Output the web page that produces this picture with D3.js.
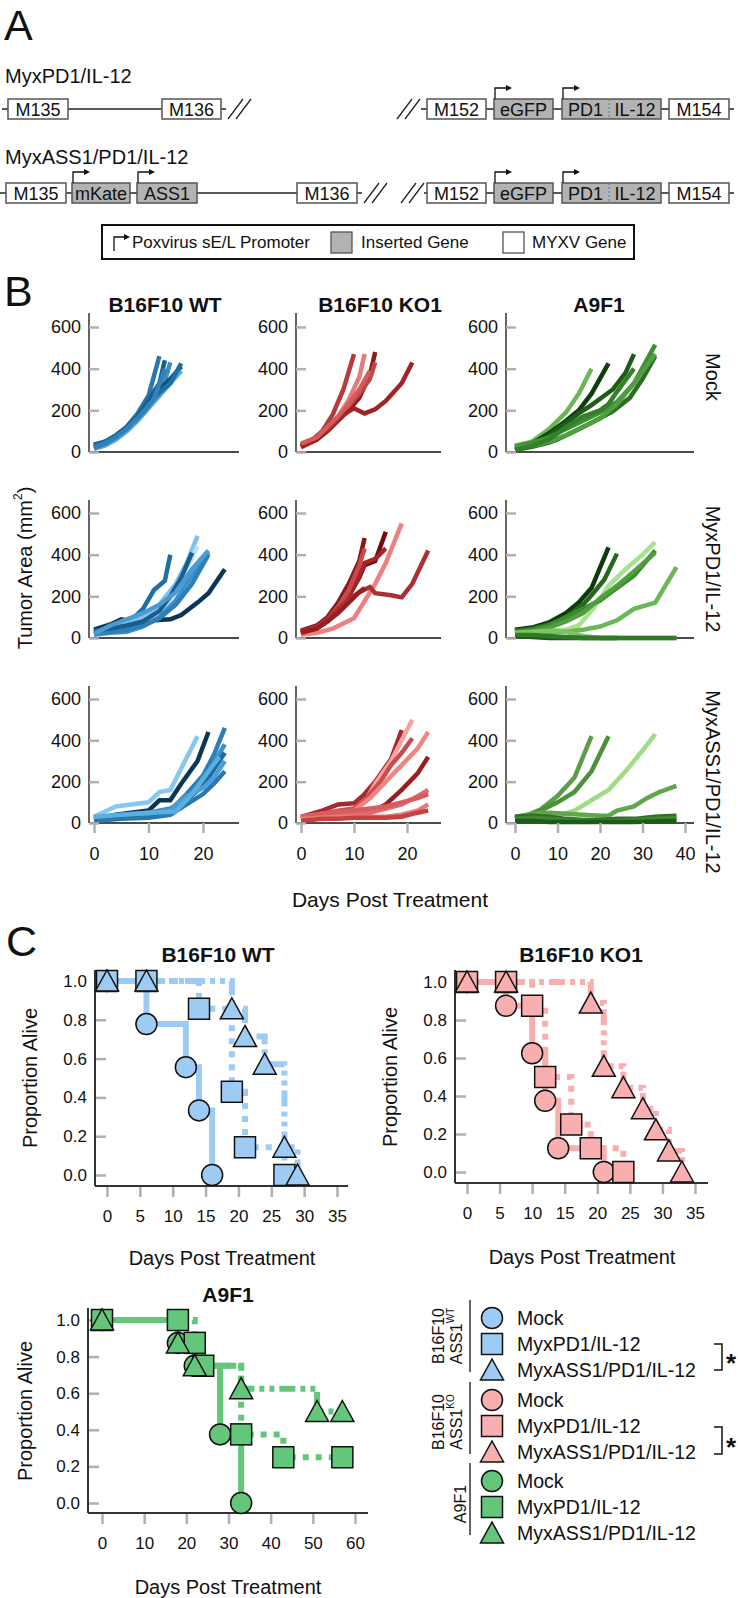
<!DOCTYPE html>
<html><head><meta charset="utf-8">
<script src="https://cdn.jsdelivr.net/npm/d3@7"></script>
<style>
body{margin:0;background:#fff}
svg text{font-family:"Liberation Sans",Arial,Helvetica,sans-serif;fill:#111}
</style>
</head><body>
<svg id="fig" width="738" height="1598"></svg>
<script>
// ================= DATA =================
// Panel A: constructs
const constructLabels = ["MyxPD1/IL-12", "MyxASS1/PD1/IL-12"];
const genes1 = ["M135","M136","M152","eGFP","PD1|IL-12","M154"];
const geneTypes1 = ["myxv","myxv","myxv","insert","insert","myxv"];
const genes2 = ["M135","mKate","ASS1","M136","M152","eGFP","PD1|IL-12","M154"];
const geneTypes2 = ["myxv","insert","insert","myxv","myxv","insert","insert","myxv"];
const promoterGenes1 = ["eGFP","PD1|IL-12"];
const promoterGenes2 = ["mKate","ASS1","eGFP","PD1|IL-12"];
const legendALabels = ["Poxvirus sE/L Promoter","Inserted Gene","MYXV Gene"];

// Panel B: tumor growth curves [day, area mm^2]
const cellLines = ["B16F10 WT","B16F10 KO1","A9F1"];
const treatments = ["Mock","MyxPD1/IL-12","MyxASS1/PD1/IL-12"];
const growthTicksY = [0,200,400,600];
const growthTicksX = [[0,10,20],[0,10,20],[0,10,20,30,40]];

const wtMock = [
 [[0,30],[2,45],[4,75],[6,120],[8,185],[10,270],[12,460]],
 [[0,20],[2,35],[4,65],[6,110],[8,170],[10,250],[12,330],[13,440]],
 [[0,25],[3,55],[5,90],[7,140],[9,200],[11,265],[13,340],[14,430]],
 [[0,35],[2,50],[4,80],[6,120],[8,170],[10,230],[12,300],[14,350],[16,410]],
 [[0,15],[2,30],[4,60],[6,100],[8,150],[10,210],[12,270],[14,330],[16,390]],
 [[0,30],[3,60],[5,95],[8,165],[10,225],[12,285],[14,330],[16,425]],
 [[0,20],[2,40],[4,70],[6,110],[9,190],[11,255],[13,400]]
];
const wtPD1 = [
 [[0,40],[3,65],[5,90],[8,75],[11,85],[14,90],[16,110],[19,170],[21,215],[24,330]],
 [[0,30],[3,50],[6,65],[9,140],[11,230],[13,275],[14,400]],
 [[0,20],[3,40],[6,70],[9,100],[12,160],[15,260],[17,360],[19,490]],
 [[0,20],[3,35],[6,45],[9,70],[12,120],[15,220],[17,330],[19,440]],
 [[0,15],[3,25],[6,30],[9,55],[12,100],[15,180],[18,300],[21,410]],
 [[0,25],[3,30],[6,40],[9,60],[12,95],[15,160],[18,260],[21,400]],
 [[0,35],[3,45],[6,60],[9,80],[12,130],[14,200],[16,290],[18,410]],
 [[0,20],[3,60],[6,90],[9,120],[12,160],[15,220],[18,330],[21,420]]
];
const wtASS1 = [
 [[0,30],[4,80],[10,100],[12,150],[14,160],[19,420]],
 [[0,20],[4,40],[10,60],[12,110],[14,110],[16,190],[19,300],[21,440]],
 [[0,25],[5,35],[10,45],[14,60],[17,140],[20,230],[22,330],[24,460]],
 [[0,20],[5,40],[10,50],[14,70],[17,120],[20,200],[22,290],[24,380]],
 [[0,15],[5,30],[10,40],[14,50],[17,110],[20,180],[22,260],[24,340]],
 [[0,25],[5,35],[10,45],[14,60],[17,130],[20,170],[22,220],[24,300]],
 [[0,10],[5,20],[10,25],[14,40],[17,90],[20,140],[22,190],[24,250]],
 [[0,30],[5,40],[10,50],[15,55],[18,140],[21,250],[23,320]]
];
const koMock = [
 [[0,30],[2,55],[4,100],[6,180],[8,300],[10,470]],
 [[0,20],[3,60],[5,110],[7,170],[9,250],[11,360],[12,470]],
 [[0,25],[3,60],[5,100],[7,150],[9,200],[11,260],[13,370],[14,480]],
 [[0,35],[3,70],[5,110],[7,160],[9,220],[11,280],[13,350],[14,430]],
 [[0,30],[2,50],[4,90],[6,140],[8,180],[10,210],[12,185],[14,205],[16,245],[19,330],[21,430]],
 [[0,40],[3,70],[5,120],[7,170],[9,230],[11,300],[13,390]]
];
const koPD1 = [
 [[0,35],[3,60],[5,100],[7,170],[9,260],[11,370],[12,480]],
 [[0,30],[3,55],[5,90],[7,140],[9,200],[11,290],[12,350],[14,370],[16,510]],
 [[0,25],[3,50],[5,80],[7,130],[9,200],[11,300],[12,360],[14,380],[16,430]],
 [[0,20],[3,50],[5,90],[7,150],[9,230],[11,350],[12,430]],
 [[0,15],[3,25],[6,45],[10,95],[14,260],[16,360],[19,550]],
 [[0,30],[3,55],[5,90],[7,140],[9,185],[11,220],[13,245],[14,215],[17,205],[19,195],[21,260],[24,420]],
 [[0,25],[3,45],[5,80],[7,120],[9,170],[11,220],[12,240]]
];
const koASS1 = [
 [[0,30],[4,60],[7,90],[10,95],[12,140],[14,200],[17,310],[19,450]],
 [[0,20],[4,40],[7,50],[10,60],[12,100],[14,190],[17,300],[19,400],[21,500]],
 [[0,25],[4,45],[7,60],[10,70],[12,110],[15,200],[17,280],[19,340],[21,410]],
 [[0,15],[4,30],[7,45],[10,60],[13,120],[16,200],[19,280],[22,360],[24,440]],
 [[0,20],[4,35],[7,40],[10,40],[13,50],[16,90],[19,160],[22,240],[24,320]],
 [[0,30],[4,45],[7,50],[10,50],[13,50],[16,70],[19,90],[22,130],[24,160]],
 [[0,25],[4,40],[7,55],[10,60],[13,70],[16,80],[19,100],[22,120],[24,140]],
 [[0,20],[4,25],[7,30],[10,30],[13,30],[16,30],[19,40],[22,60],[24,90]],
 [[0,10],[4,20],[7,20],[10,25],[13,25],[16,25],[19,30],[22,50],[24,60]]
];
const a9Mock = [
 [[0,30],[4,50],[8,110],[12,190],[15,280],[18,400]],
 [[0,20],[4,40],[8,90],[12,150],[15,200],[18,280],[22,425]],
 [[0,15],[4,35],[8,80],[12,140],[15,185],[18,225],[23,300],[26,380],[28,470]],
 [[0,25],[4,45],[8,70],[12,110],[16,150],[20,190],[24,240],[28,330],[33,515]],
 [[0,10],[4,25],[8,45],[10,60],[14,100],[18,140],[23,195],[27,260],[30,350],[33,460]],
 [[0,20],[4,30],[8,50],[12,80],[16,120],[20,160],[24,230],[28,330],[33,470]],
 [[0,10],[4,30],[8,60],[12,120],[16,170],[20,200],[22,230],[24,290],[28,400]]
];
const a9PD1 = [
 [[0,40],[4,50],[8,75],[12,120],[15,170],[18,240],[22,435]],
 [[0,35],[4,45],[8,65],[12,100],[16,160],[18,205],[21,280],[24,405]],
 [[0,25],[4,30],[8,35],[12,40],[15,60],[18,130],[22,250],[26,330],[30,400],[33,460]],
 [[0,30],[4,40],[8,60],[12,100],[16,140],[20,180],[24,240],[28,300],[33,420]],
 [[0,20],[4,30],[8,50],[12,80],[16,120],[20,190],[24,250],[28,320],[33,410]],
 [[0,20],[4,25],[8,30],[12,30],[16,40],[20,55],[24,85],[28,140],[33,170],[38,340]],
 [[0,25],[4,30],[8,35],[12,30],[16,10],[20,0],[24,0],[28,0],[33,0],[38,0]],
 [[0,10],[4,5],[8,0],[12,0],[16,0],[20,0],[24,0]],
 [[0,15],[4,15],[8,10],[12,5],[16,0],[20,0],[28,0],[38,0]]
];
const a9ASS1 = [
 [[0,30],[3,40],[6,65],[10,130],[14,220],[18,420]],
 [[0,20],[3,35],[6,60],[10,100],[14,150],[18,250],[22,420]],
 [[0,15],[4,20],[8,30],[10,35],[14,60],[18,110],[22,160],[26,250],[30,350],[33,430]],
 [[0,25],[4,45],[8,50],[12,45],[16,40],[20,35],[22,35],[24,60],[28,80],[31,120],[34,150],[38,180]],
 [[0,30],[4,35],[8,30],[12,20],[16,15],[20,15],[24,20],[28,20],[33,30],[38,35]],
 [[0,20],[4,25],[8,20],[12,15],[16,10],[20,10],[24,10],[28,15],[33,20],[38,25]],
 [[0,10],[4,10],[8,5],[12,5],[16,5],[20,5],[28,5],[38,10]]
];
const growthData = [[wtMock, koMock, a9Mock],[wtPD1, koPD1, a9PD1],[wtASS1, koASS1, a9ASS1]];

// Panel C: Kaplan-Meier survival [day, proportion alive]
const survWTMock = [[0,1],[6,0.778],[12,0.556],[14,0.333],[16,0]];
const survWTPD1  = [[0,1],[14,0.857],[19,0.429],[21,0.143],[27,0]];
const survWTASS1 = [[0,1],[19,0.857],[21,0.714],[24,0.571],[27,0.143],[29,0]];
const survKOMock = [[0,1],[6,0.875],[10,0.625],[12,0.375],[14,0.125],[21,0]];
const survKOPD1  = [[0,1],[10,0.875],[12,0.5],[16,0.25],[19,0.125],[24,0]];
const survKOASS1 = [[0,1],[19,0.889],[21,0.556],[24,0.444],[27,0.333],[29,0.222],[31,0.111],[33,0]];
const survA9Mock = [[0,1],[18,0.875],[22,0.75],[28,0.375],[33,0]];
const survA9PD1  = [[0,1],[22,0.875],[24,0.75],[33,0.375],[43,0.25],[57,0.25]];
const survA9ASS1 = [[0,1],[18,0.875],[22,0.75],[33,0.625],[51,0.5],[57,0.5]];
// extra marker points (measurement times without events)
const extraWT = [[6,1]];
const extraKO = [[6,1]];
const extraA9PD1 = [[18,1]];
const survTicksY = [0,0.2,0.4,0.6,0.8,1.0];
const survTicksX = [[0,5,10,15,20,25,30,35],[0,5,10,15,20,25,30,35],[0,10,20,30,40,50,60]];
const legendTreatments = ["Mock","MyxPD1/IL-12","MyxASS1/PD1/IL-12"];

// ================= STYLES =================
const blues = {
 mock:["#2b78ad","#1b5f8e","#3a8cc3","#0f4f7a","#5aa5d8","#1f6ea6","#2f82bb"],
 pd1:["#0a3556","#1f6ea6","#7ec3ec","#b9e1f7","#3c8fc8","#2c80ba","#1a5c8c","#4a9bd0"],
 ass1:["#86c8f0","#0b3656","#2e7fb8","#3a8dc6","#1f6aa0","#4a9fd5","#2b78ad","#5aaee0"]};
const reds = {
 mock:["#b83a3c","#e47d7a","#8e1a1c","#c14547","#a02326","#d55a5a"],
 pd1:["#8b1518","#6e0c0e","#a52628","#c44b4d","#f08080","#a93033","#991c1f"],
 ass1:["#a8282b","#f4a3a3","#cc4c4e","#ef8585","#9b1d20","#e06a6a","#d85c5e","#e77a7a","#c94040"]};
const greens = {
 mock:["#6cb658","#0e3e0e","#1d5c16","#3f8f33","#2a6e20","#4da03e","#33802a"],
 pd1:["#0d3b0b","#27691c","#a6e38e","#3c8a30","#4f9f40","#6bb657","#7cc465","#1e5a15","#2f7a25"],
 ass1:["#5a9f48","#4b9139","#9fdc84","#5fa64c","#2f6e24","#3f8533","#1e5a18"]};
const palettes = [blues, reds, greens];
const trKeys = ["mock","pd1","ass1"];
const kmFill = ["#9dcbf3","#f9afaf","#63c67b"];
const dashes = [null, "6,7", "16,5,5,5,5,5"];

const svg = d3.select("#fig");
const T = (x,y,s,o={}) => {
  const t = svg.append("text").attr("x",x).attr("y",y).text(s)
    .attr("font-size",o.size||18).attr("text-anchor",o.anchor||"start");
  if(o.weight) t.attr("font-weight",o.weight);
  if(o.rot!=null) t.attr("transform",`rotate(${o.rot},${x},${y})`);
  if(o.base) t.attr("dominant-baseline",o.base);
  return t;
};

// ================= PANEL A =================
T(4,40,"A",{size:43});
const geneSpan = {
  r1:[[8,68],[162,221],[427,486],[494,553],[562,661],[669,729]],
  r2:[[6,66],[72,130],[137,197],[297,357],[427,486],[494,553],[562,661],[669,729]]};
const rowsA = [
 {label:constructLabels[0], ly:83, cy:109, genes:genes1, types:geneTypes1, span:geneSpan.r1,
  prom:promoterGenes1, backbone:[[2,226],[421,734]], breaks:[228,397]},
 {label:constructLabels[1], ly:164, cy:193, genes:genes2, types:geneTypes2, span:geneSpan.r2,
  prom:promoterGenes2, backbone:[[0,362],[424,734]], breaks:[364,401]}
];
const gA = svg.append("g");
rowsA.forEach(r=>{
  T(5,r.ly,r.label,{size:20});
  r.backbone.forEach(b=>gA.append("line").attr("x1",b[0]).attr("x2",b[1]).attr("y1",r.cy).attr("y2",r.cy)
     .attr("stroke","#222").attr("stroke-width",1.3));
  r.breaks.forEach(bx=>{
    [0,8].forEach(o=>gA.append("line").attr("x1",bx+o).attr("y1",r.cy+10).attr("x2",bx+o+15).attr("y2",r.cy-10)
       .attr("stroke","#222").attr("stroke-width",1.3));
  });
  r.genes.forEach((g,i)=>{
    const [x0,x1]=r.span[i];
    gA.append("rect").attr("x",x0).attr("y",r.cy-10).attr("width",x1-x0).attr("height",20)
      .attr("fill",r.types[i]==="insert"?"#b3b3b3":"#fff").attr("stroke","#555").attr("stroke-width",1.5);
    if(g.includes("|")){
      const parts=g.split("|"); const mid=x0+(x1-x0)*0.475;
      gA.append("line").attr("x1",mid).attr("x2",mid).attr("y1",r.cy-10).attr("y2",r.cy+10)
        .attr("stroke","#777").attr("stroke-width",1).attr("stroke-dasharray","2,2");
      T((x0+mid)/2,r.cy+6.5,parts[0],{size:18,anchor:"middle"});
      T((mid+x1)/2,r.cy+6.5,parts[1],{size:18,anchor:"middle"});
    } else T((x0+x1)/2,r.cy+6.5,g,{size:18,anchor:"middle"});
    if(r.prom.includes(g)){
      gA.append("path").attr("d",`M${x0+1},${r.cy-10}V${r.cy-21}H${x0+13}`).attr("fill","none")
        .attr("stroke","#111").attr("stroke-width",1.3);
      gA.append("path").attr("d",`M${x0+12},${r.cy-24}L${x0+18},${r.cy-21}L${x0+12},${r.cy-18}Z`).attr("fill","#111");
    }
  });
});
// legend A
gA.append("rect").attr("x",102).attr("y",225).attr("width",532).attr("height",34)
  .attr("fill","#fff").attr("stroke","#111").attr("stroke-width",2);
gA.append("path").attr("d","M114,251V237H125").attr("fill","none").attr("stroke","#111").attr("stroke-width",1.3);
gA.append("path").attr("d","M124,234L130,237L124,240Z").attr("fill","#111");
T(132,248,legendALabels[0],{size:17});
gA.append("rect").attr("x",331).attr("y",232).attr("width",21).attr("height",21).attr("fill","#b3b3b3").attr("stroke","#555").attr("stroke-width",1.3);
T(361,248,legendALabels[1],{size:17});
gA.append("rect").attr("x",503).attr("y",232).attr("width",21).attr("height",21).attr("fill","#fff").attr("stroke","#555").attr("stroke-width",1.3);
T(532,248,legendALabels[2],{size:17});

// ================= PANEL B =================
T(4,306,"B",{size:43});
const colLayout = [
 {rng:[94,203], dom:[0,20], axisX:89, xEnd:239, cx:165},
 {rng:[301,407], dom:[0,20], axisX:296, xEnd:441, cx:380},
 {rng:[515,685], dom:[0,40], axisX:506, xEnd:694, cx:599}];
const rowLayout = [
 {zero:452, top:327, axisTop:313, lab:377},
 {zero:638, top:513, axisTop:500, lab:569},
 {zero:823, top:699, axisTop:686, lab:782}];
cellLines.forEach((c,i)=>T(colLayout[i].cx,312,c,{size:21,weight:"bold",anchor:"middle"}));
const line = d3.line();
rowLayout.forEach((R,ri)=>{
  colLayout.forEach((C,ci)=>{
    const x = d3.scaleLinear().domain(C.dom).range(C.rng);
    const y = d3.scaleLinear().domain([0,600]).range([R.zero,R.top]);
    const g = svg.append("g");
    g.append("line").attr("x1",C.axisX).attr("x2",C.xEnd).attr("y1",R.zero).attr("y2",R.zero).attr("stroke","#111").attr("stroke-width",1.3);
    g.append("line").attr("x1",C.axisX).attr("x2",C.axisX).attr("y1",R.axisTop).attr("y2",R.zero).attr("stroke","#111").attr("stroke-width",1.3);
    const series = growthData[ri][ci];
    const cols = palettes[ci][trKeys[ri]];
    series.forEach((s,k)=>{
      g.append("path").attr("d",line.x(d=>x(d[0])).y(d=>y(d[1]))(s)).attr("fill","none")
        .attr("stroke",cols[k%cols.length]).attr("stroke-width",4.5).attr("stroke-linejoin","miter").attr("stroke-miterlimit",2);
    });
    const ay = g.append("g").attr("transform",`translate(${C.axisX},0)`)
      .call(d3.axisLeft(y).tickValues(growthTicksY).tickSize(-10).tickPadding(8).tickFormat(d3.format("d")));
    ay.select(".domain").remove();
    ay.selectAll(".tick line").attr("stroke","#b0b0b0").attr("stroke-width",2.5);
    ay.selectAll(".tick text").attr("font-size",18).attr("font-family",null).attr("fill","#111");
    if(ri===2){
      const ax = g.append("g").attr("transform",`translate(0,${R.zero})`)
        .call(d3.axisBottom(x).tickValues(growthTicksX[ci]).tickSize(10).tickPadding(14));
      ax.select(".domain").remove();
      ax.selectAll(".tick line").attr("stroke","#b0b0b0").attr("stroke-width",2.5);
      ax.selectAll(".tick text").attr("font-size",18).attr("font-family",null).attr("fill","#111");
    }
  });
  T(713,R.lab,treatments[ri],{size:20,anchor:"middle",rot:90,base:"central"});
});
{
  const t = svg.append("text").attr("transform","rotate(-90,25,568)").attr("x",25).attr("y",568)
    .attr("text-anchor","middle").attr("dominant-baseline","central").attr("font-size",20);
  t.append("tspan").text("Tumor Area (mm");
  t.append("tspan").text("2").attr("font-size",12).attr("dy",-7);
  t.append("tspan").text(")").attr("dy",7);
}
T(390,907,"Days Post Treatment",{size:21,anchor:"middle"});

// ================= PANEL C =================
T(6,956,"C",{size:43});
const kmPanels = [
 {title:cellLines[0], tx:218, ty:962, xDom:[0,35], xRng:[107,337], yRng:[1175,981], axisX:95, axisY:1186, yTop:970, xEnd:348,
  labX:30, labY:1078, dx:222, dy:1265, ci:0, surv:[survWTMock,survWTPD1,survWTASS1], extra:[[],extraWT,extraWT]},
 {title:cellLines[1], tx:581, ty:962, xDom:[0,35], xRng:[467,695], yRng:[1172,982], axisX:455, axisY:1183, yTop:970, xEnd:708,
  labX:390, labY:1077, dx:582, dy:1264, ci:1, surv:[survKOMock,survKOPD1,survKOASS1], extra:[[],extraKO,extraKO]},
 {title:cellLines[2], tx:228, ty:1302, xDom:[0,60], xRng:[102,355], yRng:[1503,1320], axisX:88, axisY:1513, yTop:1308, xEnd:368,
  labX:25, labY:1411, dx:228, dy:1594, ci:2, surv:[survA9Mock,survA9PD1,survA9ASS1], extra:[[],extraA9PD1,[]]}
];
function marker(g,type,cx,cy,fill){
  let m;
  if(type===0) m=g.append("circle").attr("cx",cx).attr("cy",cy).attr("r",10.5);
  else if(type===1) m=g.append("rect").attr("x",cx-10.5).attr("y",cy-10.5).attr("width",21).attr("height",21);
  else m=g.append("path").attr("d",`M${cx},${cy-11}L${cx+11.5},${cy+10}L${cx-11.5},${cy+10}Z`);
  m.attr("fill",fill).attr("stroke","#111").attr("stroke-width",1.5);
}
kmPanels.forEach(P=>{
  const x = d3.scaleLinear().domain(P.xDom).range(P.xRng);
  const y = d3.scaleLinear().domain([0,1]).range(P.yRng);
  const g = svg.append("g");
  T(P.tx,P.ty,P.title,{size:21,weight:"bold",anchor:"middle"});
  const ay = g.append("g").attr("transform",`translate(${P.axisX},0)`)
    .call(d3.axisLeft(y).tickValues(survTicksY).tickSize(-11).tickPadding(8).tickFormat(d3.format(".1f")));
  ay.select(".domain").remove();
  ay.selectAll(".tick line").attr("stroke","#b0b0b0").attr("stroke-width",2.5);
  ay.selectAll(".tick text").attr("font-size",17).attr("font-family",null).attr("fill","#111");
  const ax = g.append("g").attr("transform",`translate(0,${P.axisY})`)
    .call(d3.axisBottom(x).tickValues(survTicksX[P.ci]).tickSize(11).tickPadding(13));
  ax.select(".domain").remove();
  ax.selectAll(".tick line").attr("stroke","#b0b0b0").attr("stroke-width",2.5);
  ax.selectAll(".tick text").attr("font-size",17).attr("font-family",null).attr("fill","#111");
  g.append("line").attr("x1",P.axisX).attr("x2",P.axisX).attr("y1",P.yTop).attr("y2",P.axisY).attr("stroke","#333").attr("stroke-width",2);
  g.append("line").attr("x1",P.axisX).attr("x2",P.xEnd).attr("y1",P.axisY).attr("y2",P.axisY).attr("stroke","#333").attr("stroke-width",2);
  const step = d3.line().curve(d3.curveStepAfter).x(d=>x(d[0])).y(d=>y(d[1]));
  P.surv.forEach((s,k)=>{
    const p = g.append("path").attr("d",step(s)).attr("fill","none").attr("stroke",kmFill[P.ci])
      .attr("stroke-width",6);
    if(dashes[k]) p.attr("stroke-dasharray",dashes[k]);
  });
  P.surv.forEach((s,k)=>{
    s.concat(P.extra[k]).forEach(d=>marker(g,k,x(d[0]),y(d[1]),kmFill[P.ci]));
  });
  T(P.labX,P.labY,"Proportion Alive",{size:20,anchor:"middle",rot:-90,base:"central"});
  T(P.dx,P.dy,"Days Post Treatment",{size:20,anchor:"middle"});
});

// legend C
const legRowY = [[1318,1344,1370],[1400,1426,1452],[1481,1507,1533]];
const gL = svg.append("g");
legRowY.forEach((rows,gi)=>{
  rows.forEach((yy,k)=>{
    marker(gL,k,492,yy,kmFill[gi]);
    T(517,yy,legendTreatments[k],{size:19.5,base:"central"});
  });
  const top = rows[0]-18, bot = rows[2]+2;
  gL.append("line").attr("x1",470).attr("x2",470).attr("y1",gi===0?1300:top).attr("y2",bot).attr("stroke","#111").attr("stroke-width",1.3);
});
function groupLabel(cy,line1,sup){
  svg.append("text").attr("transform",`rotate(-90,438,${cy})`).attr("x",438).attr("y",cy)
    .attr("text-anchor","middle").attr("dominant-baseline","central").attr("font-size",16).text(line1);
  const b = svg.append("text").attr("transform",`rotate(-90,456,${cy})`).attr("x",456).attr("y",cy)
    .attr("text-anchor","middle").attr("dominant-baseline","central").attr("font-size",16);
  b.append("tspan").text("ASS1");
  b.append("tspan").text(sup).attr("font-size",10).attr("dy",-6);
}
groupLabel(1336,"B16F10","WT");
groupLabel(1422,"B16F10","KO");
T(460,1504,"A9F1",{size:16,anchor:"middle",rot:-90,base:"central"});
// significance brackets
[[1344,1370],[1427,1454]].forEach(b=>{
  gL.append("path").attr("d",`M714,${b[0]}H722V${b[1]}H714`).attr("fill","none").attr("stroke","#111").attr("stroke-width",1.5);
  T(731,(b[0]+b[1])/2+15,"*",{size:26,anchor:"middle",weight:"bold"});
});
</script>
</body></html>
